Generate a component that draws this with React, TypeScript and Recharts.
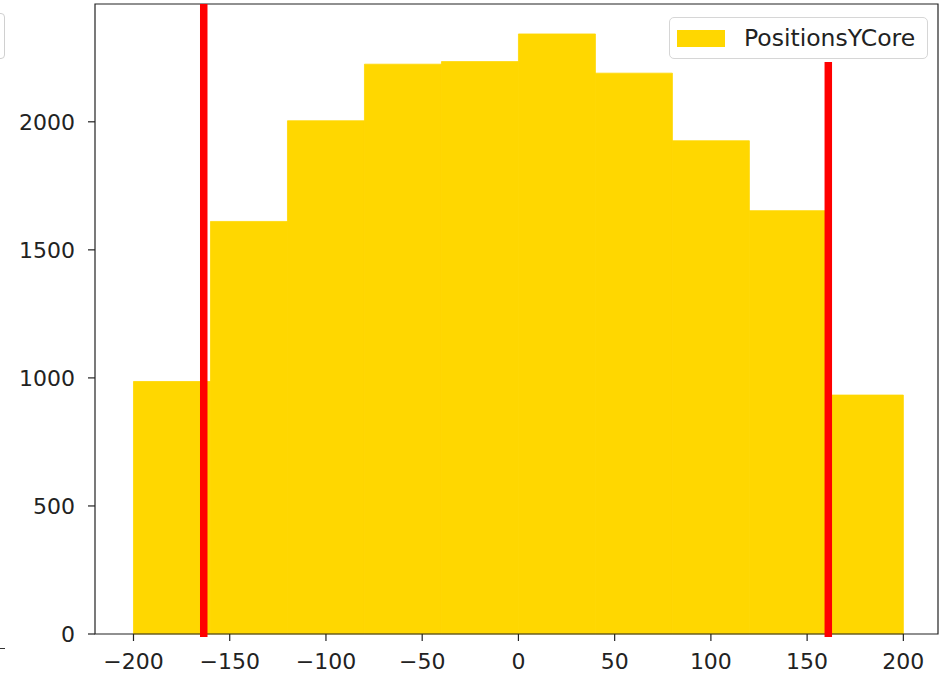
import { ComposedChart, XAxis, YAxis, ReferenceArea, ReferenceLine } from 'recharts'

const binEdges = [-200, -160, -120, -80, -40, 0, 40, 80, 120, 160, 200]
const binCounts = [986, 1611, 2004, 2225, 2235, 2343, 2190, 1926, 1653, 933]
const cutPositions = [-163.5, 161]
const cutTops = [2460, 2234]
const xTicks = [-200, -150, -100, -50, 0, 50, 100, 150, 200]
const yTicks = [0, 500, 1000, 1500, 2000]
const xDomain = [-220, 218]
const yDomain = [0, 2460]
const seriesName = 'PositionsYCore'

const bins = binCounts.map((count, i) => ({ x1: binEdges[i], x2: binEdges[i + 1], count }))

const font = '"DejaVu Sans", sans-serif'
const tickStyle = { fontSize: 22, fill: '#222', fontFamily: font }
const fmt = (v: number) => (v < 0 ? `\u2212${Math.abs(v)}` : `${v}`)

function LegendBox() {
  return (
    <div
      style={{
        position: 'absolute',
        left: 669,
        top: 17,
        width: 259,
        height: 42,
        boxSizing: 'border-box',
        border: '1px solid #d6d6d6',
        borderRadius: 5,
        background: '#fff',
        display: 'flex',
        alignItems: 'center',
        fontFamily: font,
        fontSize: 23.5,
        color: '#222',
      }}
    >
      <span style={{ display: 'inline-block', width: 48, height: 17, background: '#ffd700', marginLeft: 7, marginRight: 19 }} />
      <span>{seriesName}</span>
    </div>
  )
}

export default function App() {
  return (
    <div style={{ position: 'absolute', left: 0, top: 0, width: 939, height: 679, background: '#fff', overflow: 'hidden' }}>
      {/* cut-off bits of a neighbouring panel */}
      <div style={{ position: 'absolute', left: -10, top: 13, width: 13, height: 44, border: '1px solid #d0d0d0', borderRadius: 4 }} />
      <div style={{ position: 'absolute', left: 0, top: 648, width: 5, height: 1.2, background: '#333' }} />
      <ComposedChart width={939} height={679} data={bins} margin={{ top: 4, right: 1, bottom: 0, left: 0 }}>
        <XAxis
          type="number"
          dataKey="x1"
          domain={xDomain}
          ticks={xTicks}
          tickFormatter={fmt}
          height={45}
          tickSize={7}
          tickMargin={12}
          tick={tickStyle}
          axisLine={false}
          tickLine={{ stroke: '#222', strokeWidth: 1.2 }}
          allowDataOverflow
        />
        <YAxis
          type="number"
          domain={yDomain}
          ticks={yTicks}
          width={95}
          tickSize={7}
          tickMargin={13}
          tick={tickStyle}
          axisLine={false}
          tickLine={{ stroke: '#222', strokeWidth: 1.2 }}
          allowDataOverflow
        />
        {bins.map((b, i) => (
          <ReferenceArea
            key={i}
            x1={b.x1}
            x2={b.x2}
            y1={0}
            y2={b.count}
            fill="#ffd700"
            fillOpacity={1}
            stroke="#ffd700"
            strokeWidth={0.8}
            ifOverflow="visible"
          />
        ))}
        {cutPositions.map((x, i) => (
          <ReferenceLine
            key={i}
            segment={[{ x, y: -12 }, { x, y: cutTops[i] }]}
            stroke="#ff0000"
            strokeWidth={7.5}
            ifOverflow="visible"
          />
        ))}
        <ReferenceArea
          x1={xDomain[0]}
          x2={xDomain[1]}
          y1={yDomain[0]}
          y2={yDomain[1]}
          fill="none"
          stroke="#222"
          strokeWidth={1.2}
          ifOverflow="visible"
        />
      </ComposedChart>
      <LegendBox />
    </div>
  )
}
